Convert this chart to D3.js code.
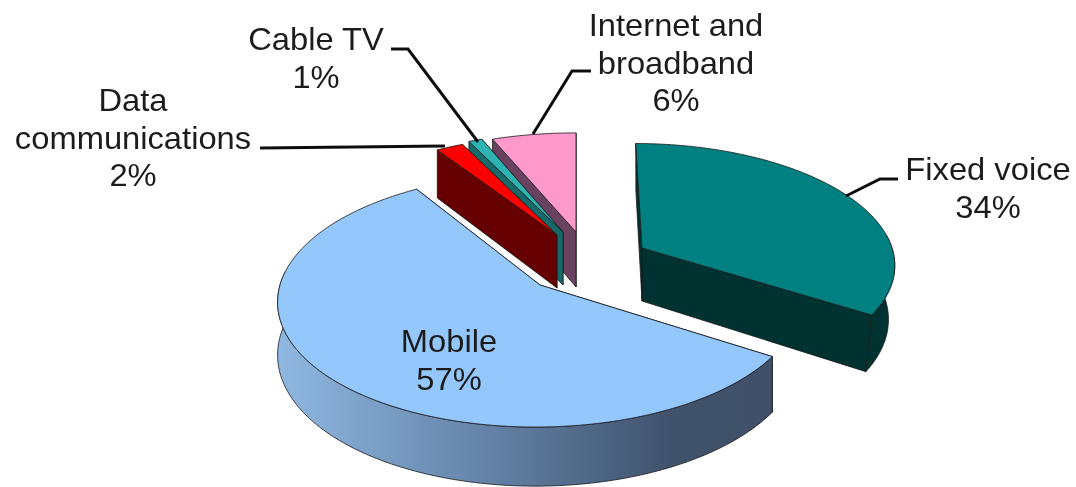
<!DOCTYPE html>
<html>
<head>
<meta charset="utf-8">
<script src="https://cdn.jsdelivr.net/npm/d3@7"></script>
<style>
  html, body { margin: 0; padding: 0; background: #fff; }
  text { font-family: "Liberation Sans", Arial, sans-serif; font-size: 31px; fill: #1c1c1c; }
</style>
</head>
<body>
<svg id="chart"></svg>
<script>
const categories = ["Fixed voice", "Mobile", "Data communications", "Cable TV", "Internet and broadband"];
const values = [34, 57, 2, 1, 6];
const labelLines = [["Fixed voice"], ["Mobile"], ["Data", "communications"], ["Cable TV"], ["Internet and", "broadband"]];

const topColors = ["#008080", "#94c7fc", "#ff0000", "#2fb3b3", "#ff99cc"];
const wallColors = ["#003333", "url(#mobileWall)", "#660000", "#176a6a", "#6b4360"];

// per slice placement, the picture has every wedge pulled out by its own amount
const sliceGeometry = [
  { ax: 642, ay: 248, rx: 250, ry: 117, depth: 53, skew: -7, taper: 0.975 },
  { ax: 540, ay: 285, rx: 260, ry: 125, depth: 52, skew: 4, taper: 1 },
  { ax: 557, ay: 235, rx: 246, ry: 111, depth: 53, skew: 0, taper: 1 },
  { ax: 563, ay: 232, rx: 245, ry: 111, depth: 53, skew: 0, taper: 1 },
  { ax: 576, ay: 232, rx: 252, ry: 111, depth: 55, skew: 0, taper: 1 }
];
const drawOrder = [4, 3, 2, 1, 0];
const perspective = 0.12;

const labelPos = [
  { x: 988, y: 180 },
  { x: 449, y: 352 },
  { x: 133, y: 111 },
  { x: 316, y: 50 },
  { x: 676, y: 36 }
];
const lineStep = 37.6;

const leaders = [
  [[846, 196], [880, 179], [898, 179]],
  [[260, 148], [445, 146]],
  [[391, 49], [408, 49], [478, 142]],
  [[533, 134], [572, 71], [591, 71]]
];

const width = 1076;
const height = 487;

const svg = d3.select("#chart")
  .attr("width", width)
  .attr("height", height)
  .style("display", "block");

const defs = svg.append("defs");
defs.append("filter").attr("id", "soft")
  .attr("filterUnits", "userSpaceOnUse")
  .attr("x", 0).attr("y", 0)
  .attr("width", width).attr("height", height)
  .append("feGaussianBlur").attr("stdDeviation", 0.7);

const grad = defs.append("linearGradient")
  .attr("id", "mobileWall")
  .attr("gradientUnits", "userSpaceOnUse")
  .attr("x1", 277).attr("x2", 772).attr("y1", 0).attr("y2", 0);
grad.selectAll("stop")
  .data([[0, "#8fb8e2"], [0.45, "#617fa3"], [0.8, "#3f526c"], [1, "#3f5069"]])
  .enter().append("stop")
  .attr("offset", d => d[0])
  .attr("stop-color", d => d[1]);

const pie = d3.pie().sort(null).value(d => d);
const arcs = pie(values);

// wedge angle to screen, circle on a tilted plane. third value is the local scale
function project(g, angle) {
  const u = Math.sin(angle);
  const v = Math.cos(angle);
  const s = 1 / (1 + perspective * v);
  return [g.ax + (u * g.rx + v * g.skew) * s, g.ay - v * g.ry * s, s, v];
}

function rimPoints(g, a) {
  const n = Math.max(4, Math.ceil((a.endAngle - a.startAngle) / 0.02));
  return d3.range(n + 1).map(i => project(g, a.startAngle + (a.endAngle - a.startAngle) * i / n));
}

const line = d3.line();
const closed = pts => line(pts) + "Z";

const root = svg.append("g").attr("filter", "url(#soft)");

drawOrder.forEach(i => {
  const g = sliceGeometry[i];
  const rim = rimPoints(g, arcs[i]);
  const apex = [g.ax, g.ay, 1, 0];
  const s = root.append("g").attr("class", "slice");
  const first = rim[0];
  const last = rim[rim.length - 1];
  const drop = pts => pts.map(p => [g.ax + (p[0] - g.ax) * g.taper, p[1] + g.depth * p[2]]);

  const addPath = (d, fill) => s.append("path")
    .attr("d", d)
    .attr("fill", fill)
    .attr("stroke", "#1a1a1a")
    .attr("stroke-width", 0.8)
    .attr("stroke-linejoin", "round");

  // radial walls, end one first so it never shows through the start one
  addPath(closed([apex, last, ...drop([last, apex])]), wallColors[i]);
  addPath(closed([apex, first, ...drop([first, apex])]), wallColors[i]);
  // outer wall, only the part facing the viewer
  const front = rim.filter(p => p[3] < 0.12);
  if (front.length > 1) addPath(closed([...front, ...drop(front).reverse()]), wallColors[i]);
  // top face
  addPath(closed([apex, ...rim]), topColors[i]);
});

root.append("g").selectAll("path")
  .data(leaders)
  .enter().append("path")
  .attr("d", d => line(d))
  .attr("fill", "none")
  .attr("stroke", "#111")
  .attr("stroke-width", 3);

const fmt = d3.format(".0%");
const labels = root.append("g").selectAll("g")
  .data(categories)
  .enter().append("g")
  .attr("transform", (d, i) => `translate(${labelPos[i].x},${labelPos[i].y}) scale(1.055,1)`);

labels.each(function (d, i) {
  const rows = labelLines[i].concat(fmt(values[i] / 100));
  d3.select(this).selectAll("text")
    .data(rows)
    .enter().append("text")
    .attr("y", (t, k) => k * lineStep)
    .attr("text-anchor", "middle")
    .text(t => t);
});
</script>
</body>
</html>
